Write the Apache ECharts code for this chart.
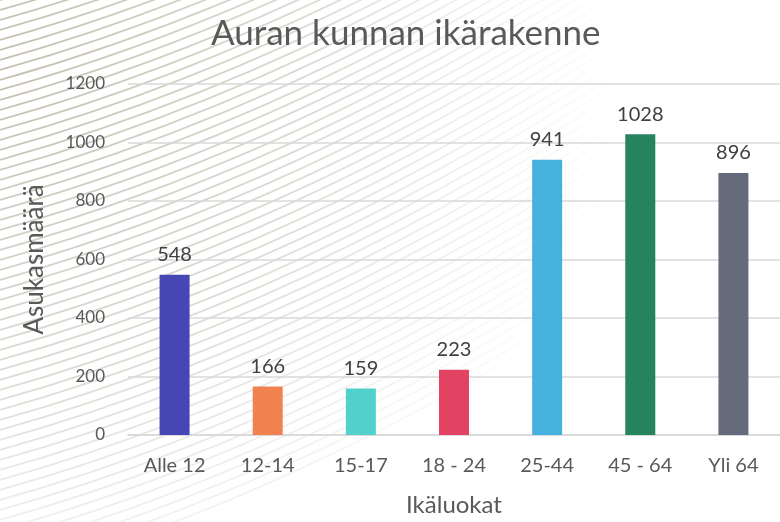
<!DOCTYPE html>
<html>
<head>
<meta charset="utf-8">
<script src="https://cdn.jsdelivr.net/npm/echarts@6/dist/echarts.min.js"></script>
<style>
  html, body { margin: 0; padding: 0; background: #ffffff; }
  #chart { width: 780px; height: 522px; }
</style>
</head>
<body>
<div id="chart"></div>
<script>
// Age groups of the municipality and their resident counts
const categories = ['Alle 12', '12-14', '15-17', '18 - 24', '25-44', '45 - 64', 'Yli 64'];
const residents = [548, 166, 159, 223, 941, 1028, 896];
const barColors = ['#4646B4', '#F0824F', '#52D0CB', '#E24363', '#46B0DE', '#25835E', '#656B7A'];
const yTicks = [0, 200, 400, 600, 800, 1000, 1200];

const FONT = 'Lato, "Open Sans", sans-serif';

// Decorative sweep of thin, gently rising curved lines in the top-left corner
const sweep = [];
for (let i = 0; i < 75; i++) {
  const y0 = -160 + i * 10;
  const x2 = 700;
  // quadratic y = y0 - 0.28x - 0.0003x^2 expressed as a cubic bezier
  const f = x => y0 - 0.28 * x - 0.0003 * x * x;
  const d = x => -0.28 - 0.0006 * x;
  sweep.push({
    type: 'bezierCurve',
    silent: true,
    z: -10,
    shape: {
      x1: 0, y1: f(0),
      x2: x2, y2: f(x2),
      cpx1: x2 / 3, cpy1: f(0) + d(0) * x2 / 3,
      cpx2: 2 * x2 / 3, cpy2: f(x2) - d(x2) * x2 / 3
    },
    style: {
      fill: null,
      lineWidth: 1.8,
      stroke: {
        type: 'radial', x: 0, y: 60, r: 640, global: true,
        colorStops: [
          { offset: 0, color: 'rgba(160,150,130,0.62)' },
          { offset: 0.5, color: 'rgba(172,164,146,0.40)' },
          { offset: 0.85, color: 'rgba(190,185,172,0.10)' },
          { offset: 1, color: 'rgba(200,195,185,0)' }
        ]
      }
    }
  });
}

const chart = echarts.init(document.getElementById('chart'), null, { renderer: 'canvas' });
chart.setOption({
  backgroundColor: '#ffffff',
  animation: false,
  graphic: sweep,
  title: {
    text: 'Auran kunnan ikärakenne',
    left: 206,
    top: 11,
    textStyle: { fontFamily: FONT, fontSize: 35, fontWeight: 'normal', color: '#595959' }
  },
  grid: { left: 128, right: -7, top: 84, bottom: 80 },
  xAxis: {
    type: 'category',
    data: categories,
    name: 'Ikäluokat',
    nameLocation: 'middle',
    nameGap: 58,
    nameTextStyle: { fontFamily: FONT, fontSize: 24, color: '#595959' },
    axisLine: { lineStyle: { color: '#d9d9d9', width: 1.5 } },
    axisTick: { show: false },
    axisLabel: { fontFamily: FONT, fontSize: 20, color: '#595959', margin: 21 }
  },
  yAxis: {
    type: 'value',
    min: yTicks[0],
    max: yTicks[yTicks.length - 1],
    interval: yTicks[1] - yTicks[0],
    name: 'Asukasmäärä',
    nameLocation: 'middle',
    nameGap: 80,
    nameTextStyle: { fontFamily: FONT, fontSize: 26, color: '#595959' },
    axisLine: { show: false },
    axisTick: { show: false },
    axisLabel: {
      fontFamily: FONT, fontSize: 17, color: '#595959', margin: 23,
      formatter: v => String(v)
    },
    splitLine: { lineStyle: { color: '#d9d9d9', width: 1.5 } }
  },
  series: [{
    type: 'bar',
    barWidth: 30,
    data: residents.map((v, i) => ({ value: v, itemStyle: { color: barColors[i] } })),
    label: {
      show: true,
      position: 'top',
      distance: 10,
      fontFamily: FONT,
      fontSize: 20,
      color: '#404040'
    }
  }]
});
</script>
</body>
</html>
